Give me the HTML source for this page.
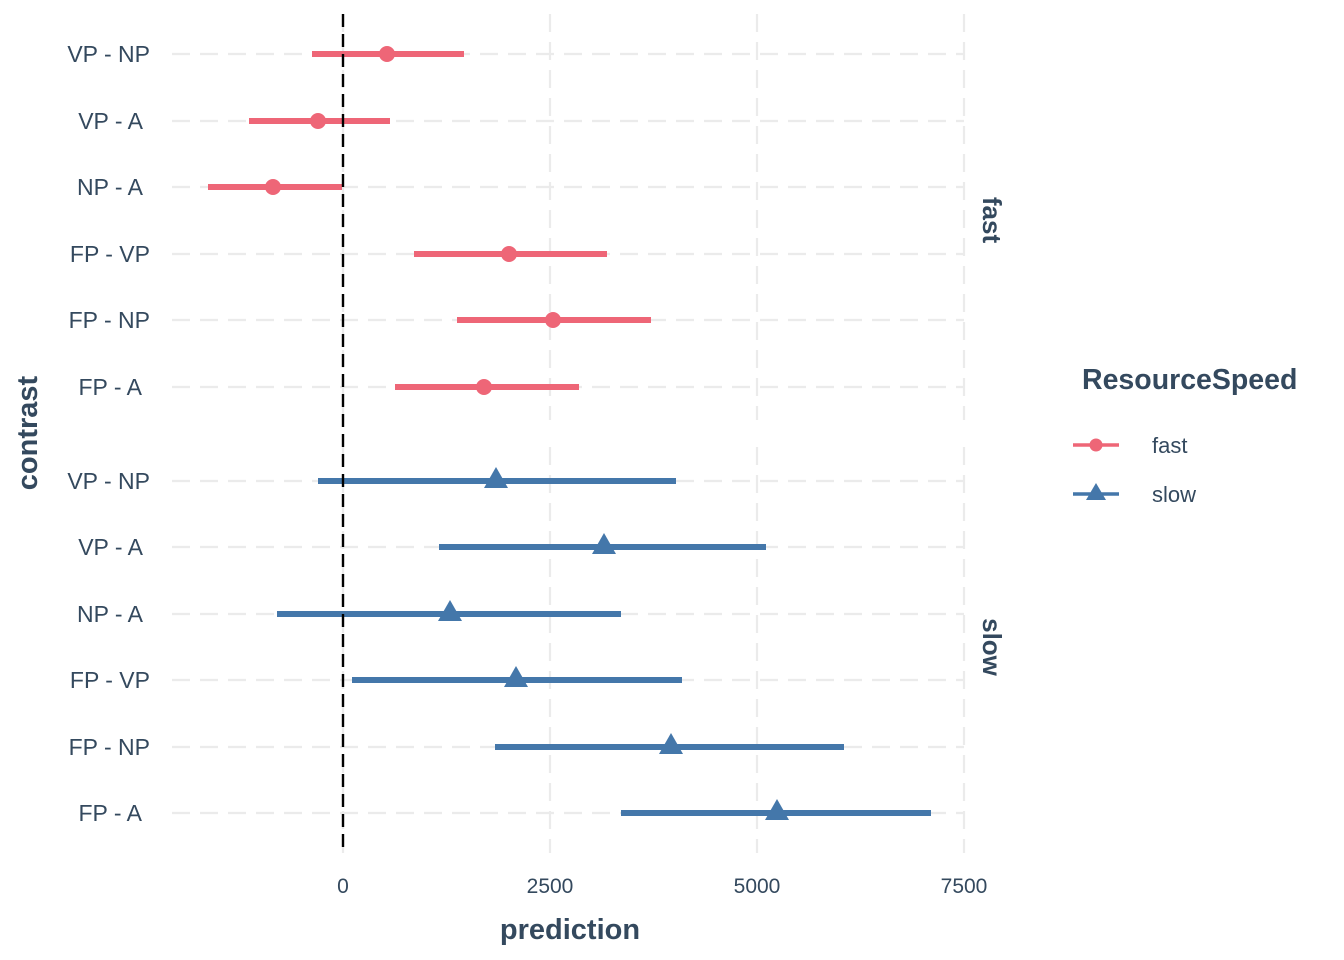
<!DOCTYPE html>
<html><head><meta charset="utf-8"><style>
html,body{margin:0;padding:0;background:#fff;}
svg{display:block;}
text{font-family:"Liberation Sans",sans-serif;fill:#34495E;}
</style></head><body>
<svg width="1344" height="960" viewBox="0 0 1344 960" xmlns="http://www.w3.org/2000/svg">
<g stroke="#EBEBEB" stroke-width="2.2" stroke-dasharray="18 10" fill="none">
<line x1="343" y1="14" x2="343" y2="420"/><line x1="550" y1="14" x2="550" y2="420"/><line x1="757" y1="14" x2="757" y2="420"/><line x1="964" y1="14" x2="964" y2="420"/>
<line x1="343" y1="447" x2="343" y2="853"/><line x1="550" y1="447" x2="550" y2="853"/><line x1="757" y1="447" x2="757" y2="853"/><line x1="964" y1="447" x2="964" y2="853"/>
<line x1="172" y1="54" x2="964" y2="54"/><line x1="172" y1="121" x2="964" y2="121"/><line x1="172" y1="187" x2="964" y2="187"/><line x1="172" y1="254" x2="964" y2="254"/><line x1="172" y1="320" x2="964" y2="320"/><line x1="172" y1="387" x2="964" y2="387"/>
<line x1="172" y1="481" x2="964" y2="481"/><line x1="172" y1="547" x2="964" y2="547"/><line x1="172" y1="614" x2="964" y2="614"/><line x1="172" y1="680" x2="964" y2="680"/><line x1="172" y1="747" x2="964" y2="747"/><line x1="172" y1="813" x2="964" y2="813"/>
</g>
<g stroke="#EE6677" stroke-width="6" fill="#EE6677">
<line x1="312" y1="54" x2="464" y2="54"/><circle cx="387" cy="54" r="8" stroke="none"/>
<line x1="249" y1="121" x2="390" y2="121"/><circle cx="318" cy="121" r="8" stroke="none"/>
<line x1="208" y1="187" x2="342" y2="187"/><circle cx="273" cy="187" r="8" stroke="none"/>
<line x1="414" y1="254" x2="607" y2="254"/><circle cx="509" cy="254" r="8" stroke="none"/>
<line x1="457" y1="320" x2="651" y2="320"/><circle cx="553" cy="320" r="8" stroke="none"/>
<line x1="395" y1="387" x2="579" y2="387"/><circle cx="484" cy="387" r="8" stroke="none"/>
</g>
<g stroke="#4477AA" stroke-width="6" fill="#4477AA">
<line x1="318" y1="481" x2="676" y2="481"/><polygon points="496,467 508,488 484,488" stroke="none"/>
<line x1="439" y1="547" x2="766" y2="547"/><polygon points="604,533 616,554 592,554" stroke="none"/>
<line x1="277" y1="614" x2="621" y2="614"/><polygon points="450,600 462,621 438,621" stroke="none"/>
<line x1="352" y1="680" x2="682" y2="680"/><polygon points="516,666 528,687 504,687" stroke="none"/>
<line x1="495" y1="747" x2="844" y2="747"/><polygon points="671,733 683,754 659,754" stroke="none"/>
<line x1="621" y1="813" x2="931" y2="813"/><polygon points="777,799 789,820 765,820" stroke="none"/>
</g>
<line x1="343" y1="14" x2="343" y2="853" stroke="#000" stroke-width="2.4" stroke-dasharray="13 7"/>
<g font-size="23" text-anchor="end">
<text x="150" y="62">VP - NP</text><text x="143" y="129">VP - A</text><text x="143" y="195">NP - A</text><text x="150" y="262">FP - VP</text><text x="150" y="328">FP - NP</text><text x="142" y="395">FP - A</text>
<text x="150" y="489">VP - NP</text><text x="143" y="555">VP - A</text><text x="143" y="622">NP - A</text><text x="150" y="688">FP - VP</text><text x="150" y="755">FP - NP</text><text x="142" y="821">FP - A</text>
</g>
<g font-size="21" text-anchor="middle">
<text x="343" y="893">0</text><text x="550" y="893">2500</text><text x="757" y="893">5000</text><text x="964" y="893">7500</text>
</g>
<text x="570" y="939" font-size="29" font-weight="bold" text-anchor="middle">prediction</text>
<text transform="translate(37,433) rotate(-90)" font-size="29" font-weight="bold" text-anchor="middle">contrast</text>
<text transform="translate(983,220) rotate(90)" font-size="26" font-weight="bold" text-anchor="middle">fast</text>
<text transform="translate(983,647) rotate(90)" font-size="26" font-weight="bold" text-anchor="middle">slow</text>
<text x="1082" y="389" font-size="28.5" font-weight="bold">ResourceSpeed</text>
<line x1="1073" y1="445" x2="1119" y2="445" stroke="#EE6677" stroke-width="3.5"/><circle cx="1096" cy="445" r="6.5" fill="#EE6677"/>
<line x1="1073" y1="494" x2="1119" y2="494" stroke="#4477AA" stroke-width="3.5"/><polygon points="1096,483 1106,500 1086,500" fill="#4477AA"/>
<text x="1152" y="453" font-size="22">fast</text>
<text x="1152" y="502" font-size="22">slow</text>
</svg>
</body></html>
